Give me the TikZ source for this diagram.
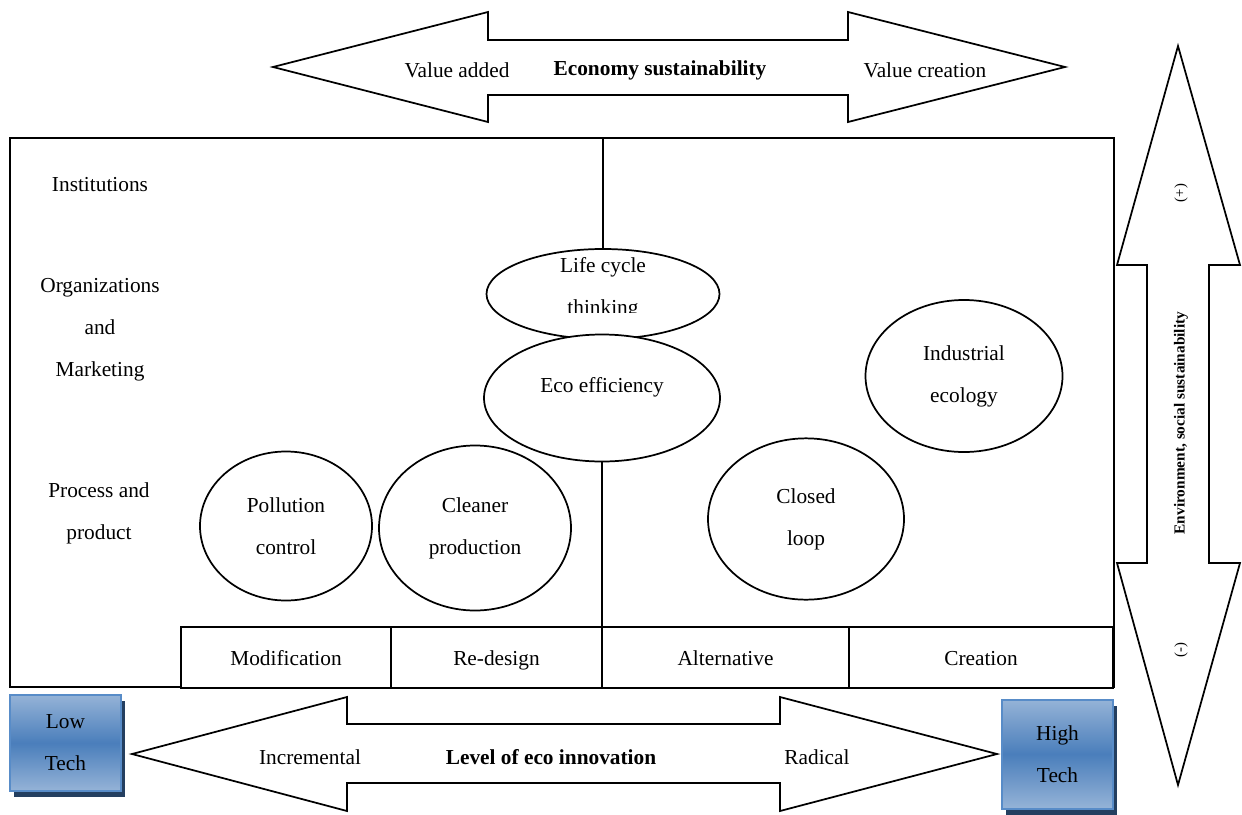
\documentclass[tikz,border=0pt]{standalone}
\usepackage{fontspec}
\setmainfont{Liberation Serif}
\usetikzlibrary{shapes.geometric, positioning, shadows}

\definecolor{techtop}{RGB}{149,179,215}
\definecolor{techmid}{RGB}{74,126,187}
\definecolor{techline}{RGB}{88,140,200}
\definecolor{techshade}{RGB}{36,63,96}

\begin{document}
\begin{tikzpicture}[
    x=0.75pt, y=-0.75pt,
    font=\fontsize{16}{31.5}\selectfont,
    band/.style={draw, line width=1.3pt, fill=white, line join=miter},
    oval/.style={ellipse, draw, line width=1.3pt, fill=white, align=center, inner sep=0pt},
    cell/.style={rectangle, draw, line width=1.3pt, fill=white, minimum height=45.75pt, inner sep=0pt, outer sep=0pt, text height=15.5pt, text depth=3.5pt},
    tech/.style={rectangle, draw=techline, line width=1.5pt, top color=techtop, bottom color=techtop, middle color=techmid, align=center, minimum width=83.25pt, drop shadow={shadow xshift=3pt, shadow yshift=-4.5pt, fill=techshade, opacity=1}},
    side/.style={align=center},
    label/.style={inner sep=0pt}
]
\useasboundingbox (0,0) rectangle (1242,814);

% Frame
\draw[line width=1.3pt] (10,138) rectangle (1114,687);

% Economy arrow
\draw[band] (273,67) -- (488,12) -- (488,40) -- (848,40) -- (848,12) -- (1065,67)
    -- (848,122) -- (848,95) -- (488,95) -- (488,122) -- cycle;
\node (added) [label] at (457,70) {Value added};
\node (economy) [label, font=\fontsize{16}{19}\selectfont\bfseries] at (660,70) {Economy sustainability};
\node (creation) [label] at (925,70) {Value creation};

% Environment arrow
\draw[band] (1178,46) -- (1240,265) -- (1209,265) -- (1209,563) -- (1240,563) -- (1178,785)
    -- (1117,563) -- (1147,563) -- (1147,265) -- (1117,265) -- cycle;
\node (plus) [label, rotate=90, font=\fontsize{11}{13}\selectfont] at (1181,193) {(+)};
\node (environment) [label, rotate=90, font=\fontsize{11.5}{13}\selectfont\bfseries] at (1181,423) {Environment, social sustainability};
\node (minus) [label, rotate=90, font=\fontsize{11}{13}\selectfont] at (1181,650) {(-)};

% Innovation arrow
\draw[band] (132,754) -- (347,697) -- (347,724) -- (780,724) -- (780,697) -- (997,754)
    -- (780,811) -- (780,783) -- (347,783) -- (347,811) -- cycle;
\node (incremental) [label] at (310,757) {Incremental};
\node (level) [label, font=\fontsize{16}{19}\selectfont\bfseries] at (551,757) {Level of eco innovation};
\node (radical) [label] at (817,757) {Radical};

% Levels
\node (inst) [side] at (100,185) {Institutions};
\node (org) [side] at (100,330) {Organizations\\and\\Marketing};
\node (proc) [side] at (99,513) {Process and\\product};

% Bottom cells
\node (mod) [cell, anchor=north west, minimum width=157.5pt] at (181,627) {Modification};
\node (redesign) [cell, right=0pt of mod, minimum width=158.25pt] {Re-design};
\node (alt) [cell, right=0pt of redesign, minimum width=185.25pt] {Alternative};
\node (create) [cell, right=0pt of alt, minimum width=198pt] {Creation};

% Ovals
\node (lifecycle) [oval, minimum width=174.75pt, minimum height=67.5pt] at (603,294) {};
\begin{scope}
  \clip (487,245) rectangle (720,312);
  \node (lifetext) [side] at (603,288) {Life cycle\\thinking};
\end{scope}
\node (ecoeff) [oval, minimum width=177pt, minimum height=95.25pt, text depth=20pt] at (602,398) {Eco efficiency};
\node (pollution) [oval, minimum width=129pt, minimum height=111.75pt] at (286,526) {Pollution\\control};
\node (cleaner) [oval, minimum width=144pt, minimum height=123.75pt] at (475,528) {Cleaner\\production};
\node (closed) [oval, minimum width=147pt, minimum height=121pt] at (806,519) {Closed\\loop};
\node (industrial) [oval, minimum width=147.75pt, minimum height=114pt] at (964,376) {Industrial\\ecology};

% Divider
\draw[line width=1.3pt] (lifecycle.north |- 0,138) -- (lifecycle.north);
\draw[line width=1.3pt] (ecoeff.south) -- (alt.north west);

% Tech boxes
\node (low) [tech, minimum height=72pt] at (65.5,743) {Low\\Tech};
\node (high) [tech, minimum height=81.75pt] at (1057.5,754) {High\\Tech};

\end{tikzpicture}
\end{document}
